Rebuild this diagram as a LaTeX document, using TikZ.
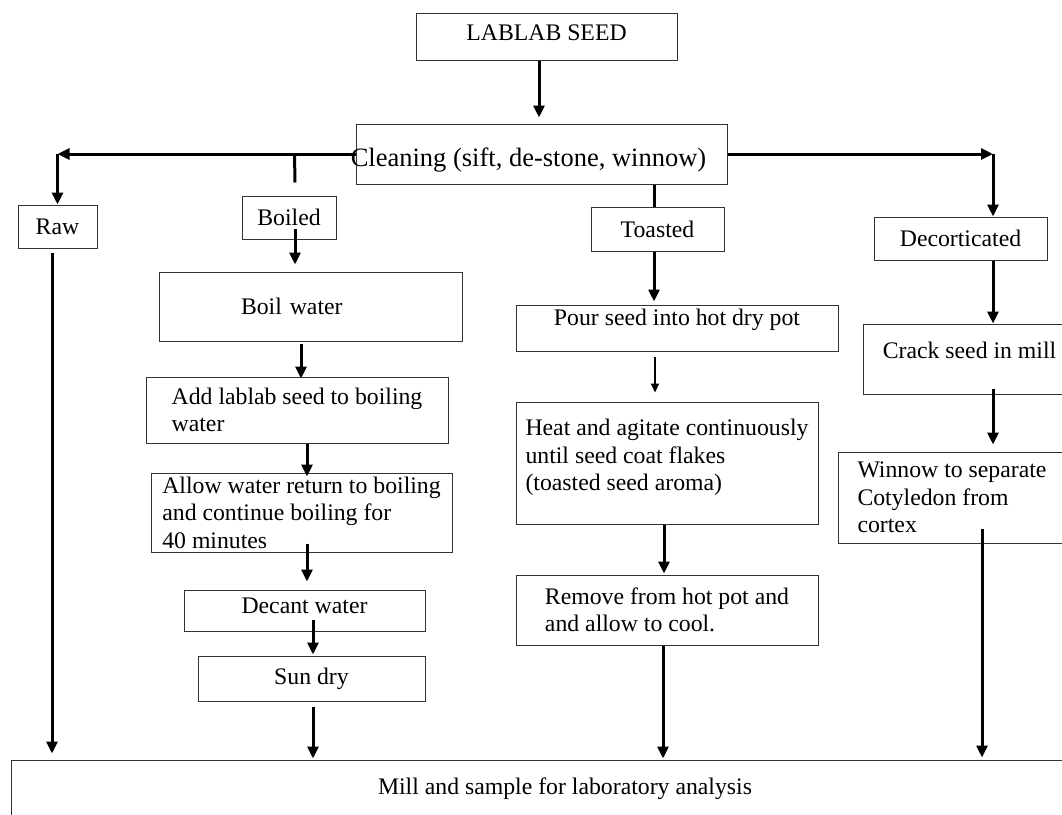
\documentclass[tikz,border=0pt]{standalone}
\usepackage{fontspec}
\setmainfont{Liberation Serif}
\usetikzlibrary{arrows.meta,positioning}
\newcommand\stepfont{\fontsize{23.75pt}{27.5pt}\selectfont}
\newcommand\cleanfont{\fontsize{26.5pt}{30pt}\selectfont}
\tikzset{
  procbox/.style={draw=black!80, line width=1pt, inner sep=0pt, font=\stepfont, align=left},
  flow/.style={line width=3pt, -{Triangle[length=12pt,width=11pt]}},
  thinflow/.style={line width=2pt, -{Triangle[length=9pt,width=8pt]}},
  tick/.style={line width=3pt},
}
\begin{document}
\begin{tikzpicture}[x=1pt,y=-1pt]
  \clip (0,0) rectangle (1062,814);
  % boxes
  \node[procbox, minimum width=261pt, minimum height=47pt, text depth=8pt] at (546.5,36.5) (seed) {LABLAB SEED};
  \node[procbox, minimum width=371pt, minimum height=60pt,
        label={[font=\cleanfont, xshift=-13pt, yshift=-6pt]center:Cleaning (sift, de-stone, winnow)}] at (541.5,154) (clean) {};
  \node[procbox, minimum width=79pt, minimum height=43pt] at (57.5,226.5) (raw) {Raw};
  \node[procbox, minimum width=94pt, minimum height=43pt] at (289,217.5) (boiled) {Boiled};
  \node[procbox, minimum width=133pt, minimum height=44pt] at (657.5,229) (toasted) {Toasted};
  \node[procbox, minimum width=173pt, minimum height=43pt] at (960.5,238.5) (decort) {Decorticated};
  % boiled column
  \node[procbox, minimum height=69pt, text width=139pt, inner xsep=82pt] at (310.5,306.5) (boilw) {Boil water};
  \node[procbox, minimum width=302pt, minimum height=66pt] at (297,410) (add) {Add lablab seed to boiling\\water};
  \node[procbox, minimum width=301pt, minimum height=79pt] at (301.5,512.5) (allow) {Allow water return to boiling\\and continue boiling for\\40 minutes};
  \node[procbox, minimum width=241pt, minimum height=41pt, text depth=10pt] at (304.5,610.5) (decant) {Decant water};
  \node[procbox, minimum width=227pt, minimum height=45pt] at (311.5,678.5) (sundry) {Sun dry};
  % toasted column
  \node[procbox, minimum width=322pt, minimum height=46pt, text depth=21pt] at (677,328) (pour) {Pour seed into hot dry pot};
  \node[procbox, minimum width=302pt, minimum height=122pt, text depth=16pt] at (667,463) (heat) {Heat and agitate continuously\\until seed coat flakes\\(toasted seed aroma)};
  \node[procbox, minimum width=302pt, minimum height=70pt] at (667,610) (remove) {Remove from hot pot and\\and allow to cool.};
  % decorticated column
  \node[procbox, minimum width=213pt, minimum height=70pt, text depth=18pt] at (969.5,359) (crack) {Crack seed in mill};
  \node[procbox, minimum width=228pt, minimum height=91pt] at (952,497.5) (winnow) {Winnow to separate\\Cotyledon from\\cortex};
  \node[procbox, minimum width=1108pt, minimum height=58pt, align=center] at (565,789) (mill) {Mill and sample for laboratory analysis};

  \coordinate (brl) at (57.5,154);
  \coordinate (brr) at (993,154);

  % connectors
  \draw[flow, shorten >=6pt] ([xshift=-7.5pt]seed.south) -- ([xshift=-2.5pt]clean.north);
  \draw[flow] (clean.west) -- (brl);
  \draw[flow] (brl) -- (raw.north);
  \draw[tick] ([xshift=-61pt]clean.west) -- ([xshift=6pt,yshift=13pt]boiled.north);
  \draw[tick] ([xshift=112.5pt]clean.south) -- ([xshift=-3.5pt]toasted.north);
  \draw[flow] (clean.east) -- (brr);
  \draw[flow] (brr) -- (brr |- decort.north);

  \draw[flow, shorten <=4pt, shorten >=6pt] ([xshift=-5.5pt]raw.south) -- ([xshift=-513pt]mill.north);

  \draw[flow, shorten >=7pt] ([xshift=6pt,yshift=11pt]boiled.south) -- ([xshift=-15.5pt]boilw.north);
  \draw[flow, shorten <=2pt, shorten >=-2pt] ([xshift=-9.5pt]boilw.south) -- ([xshift=4pt]add.north);
  \draw[flow, shorten >=-4pt] ([xshift=10pt]add.south) -- ([xshift=5.5pt]allow.north);
  \draw[flow, shorten >=8pt] ([xshift=5.5pt,yshift=9pt]allow.south) -- ([xshift=2.5pt]decant.north);
  \draw[flow, shorten >=1pt] ([xshift=8.5pt,yshift=12pt]decant.south) -- ([xshift=1.5pt]sundry.north);
  \draw[flow, shorten <=5pt, shorten >=1pt] ([xshift=1.5pt]sundry.south) -- ([xshift=-252pt]mill.north);

  \draw[flow, shorten >=3pt] ([xshift=-3.5pt]toasted.south) -- ([xshift=-23pt]pour.north);
  \draw[thinflow, shorten <=5pt, shorten >=9pt] ([xshift=-22pt]pour.south) -- ([xshift=-12pt]heat.north);
  \draw[flow, shorten >=1pt] ([xshift=-3pt]heat.south) -- ([xshift=-3pt]remove.north);
  \draw[flow, shorten >=1pt] ([xshift=-4pt]remove.south) -- ([xshift=98pt]mill.north);

  \draw[flow] ([xshift=32.5pt]decort.south) -- ([xshift=23.5pt]crack.north);
  \draw[flow, shorten >=7pt] ([xshift=23.5pt,yshift=6pt]crack.south) -- ([xshift=41pt]winnow.north);
  \draw[flow, shorten >=2pt] ([xshift=30pt,yshift=15pt]winnow.south) -- ([xshift=417pt]mill.north);
\end{tikzpicture}
\end{document}
